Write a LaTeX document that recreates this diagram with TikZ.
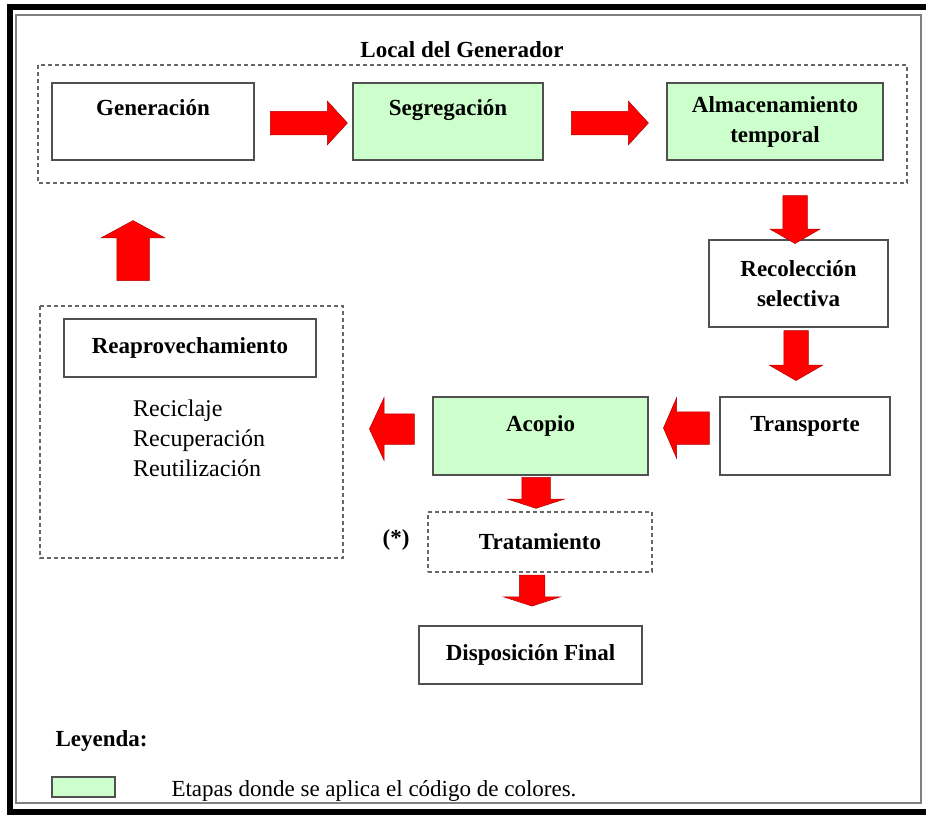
\documentclass[tikz,border=0pt]{standalone}
\usepackage{fontspec}
\setmainfont{Liberation Serif}
\usetikzlibrary{shapes.arrows}
\definecolor{verdeclaro}{RGB}{204,255,204}
\definecolor{rojo}{RGB}{255,0,0}
\definecolor{borde}{RGB}{80,80,80}

\begin{document}
\begin{tikzpicture}[x=1pt, y=-1pt,
    caja/.style={draw=borde, line width=1.3pt, align=center, inner sep=0pt, font=\fontsize{23}{30}\selectfont\bfseries},
    caja_verde/.style={caja, fill=verdeclaro},
    arriba/.style={text height=16pt, text depth=28pt},
    grupo/.style={draw=gray!80!black, line width=1.3pt, dash pattern=on 4pt off 3pt},
    flecha/.style n args={4}{single arrow, fill=rojo, draw=rojo!70!black, line width=0.5pt, inner xsep=0pt, inner ysep=#2, minimum width=0pt, minimum height=#1, single arrow head extend=#3, single arrow tip angle=#4},
    texto/.style={font=\fontsize{24}{30}\selectfont}]
    \useasboundingbox (0,0) rectangle (926,816);
    % marco
    \draw[line width=6pt] (10,7) rectangle (929,812);
    \draw[gray, line width=1.5pt] (16,15) rectangle (921,803);

    % local del generador
    \draw[grupo] (38,65) rectangle (907,183);
    \node[font=\fontsize{23}{28}\selectfont\bfseries] (titulo) at (462,50) {Local del Generador};
    \node[caja, arriba, minimum width=202pt, minimum height=77pt] (gen) at (153,121.5) {Generación};
    \node[caja_verde, arriba, minimum width=190pt, minimum height=77pt] (seg) at (448,121.5) {Segregación};
    \node[caja_verde, minimum width=216pt, minimum height=77pt] (alm) at (775,121.5) {Almacenamiento\\temporal};

    \node[caja, minimum width=179pt, minimum height=87pt] (rec) at (798.5,283.5) {Recolección\\selectiva};
    \node[caja, text height=16pt, text depth=26pt, minimum width=170pt, minimum height=78pt] (tra) at (805,436) {Transporte};
    \node[caja_verde, text height=16pt, text depth=26pt, minimum width=215pt, minimum height=78pt] (aco) at (540.5,436) {Acopio};
    \node[caja, grupo, minimum width=224pt, minimum height=60pt] (trat) at (540,542) {Tratamiento};
    \node[font=\fontsize{23}{28}\selectfont\bfseries] (ast) at (396,540) {(*)};
    \node[caja, minimum width=223pt, minimum height=58pt] (dis) at (530.5,655) {Disposición Final};

    % reaprovechamiento
    \draw[grupo] (40,306) rectangle (343,558);
    \node[caja, minimum width=252pt, minimum height=58pt] (rea) at (190,348) {Reaprovechamiento};
    \node[texto, align=left, anchor=west, inner sep=0pt] (lista) at (133,438) {Reciclaje\\Recuperación\\Reutilización};

    % flechas
    \node[flecha={77pt}{11.5pt}{10pt}{95}] (f1) at (303.5,123) {};
    \node[flecha={77pt}{11.5pt}{10pt}{95}] (f2) at (604.5,123) {};
    \node[flecha={48pt}{12pt}{12.5pt}{120}, rotate=-90] (f3) at (795,216) {};
    \node[flecha={50pt}{12pt}{14.5pt}{120}, rotate=-90] (f4) at (796,352) {};
    \node[flecha={46pt}{16pt}{14pt}{133}, rotate=180] (f5) at (690,428) {};
    \node[flecha={45pt}{15pt}{16pt}{130}, rotate=180] (f6) at (395.5,429) {};
    \node[flecha={31pt}{14pt}{14pt}{144}, rotate=-90] (f7) at (536,490.5) {};
    \node[flecha={31pt}{12.5pt}{15.5pt}{144}, rotate=-90] (f8) at (532,588.5) {};
    \node[flecha={60pt}{16pt}{15.5pt}{123}, rotate=90] (f9) at (133,255) {};

    % leyenda
    \node[font=\fontsize{23}{28}\selectfont\bfseries, anchor=west] (leyenda) at (52,741) {Leyenda:};
    \node[caja_verde, minimum width=63pt, minimum height=20pt] (muestra) at (83.5,787) {};
    \node[font=\fontsize{23}{28}\selectfont, anchor=west] (nota) at (168,791) {Etapas donde se aplica el código de colores.};
\end{tikzpicture}
\end{document}
